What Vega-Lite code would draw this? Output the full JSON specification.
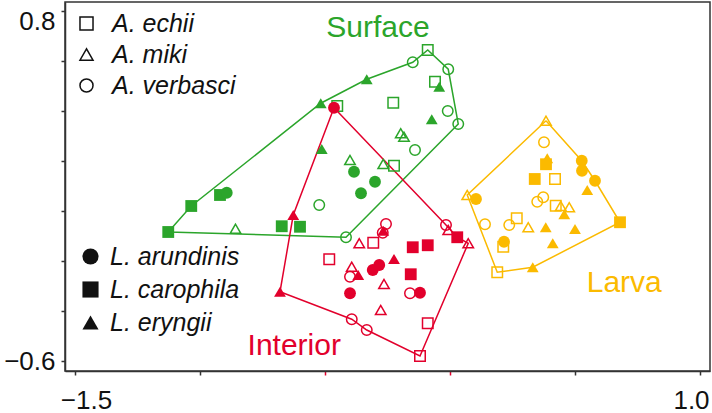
{
  "$schema": "https://vega.github.io/schema/vega-lite/v6.json",
  "width": 645,
  "height": 369,
  "autosize": {"type": "none"},
  "padding": {"left": 65, "top": 2, "right": 2, "bottom": 42},
  "config": {"view": {"stroke": "#333", "strokeWidth": 1.5}, "font": "Liberation Sans"},
  "datasets": {
    "pts": [
      {"g":"Surface","sp":"A. echii","x":-0.089,"y":0.644},
      {"g":"Surface","sp":"A. verbasci","x":-0.149,"y":0.595},
      {"g":"Surface","sp":"A. verbasci","x":-0.007,"y":0.567},
      {"g":"Surface","sp":"L. eryngii","x":-0.333,"y":0.527},
      {"g":"Surface","sp":"A. echii","x":-0.060,"y":0.517},
      {"g":"Surface","sp":"L. eryngii","x":-0.043,"y":0.497},
      {"g":"Surface","sp":"L. eryngii","x":-0.517,"y":0.431},
      {"g":"Surface","sp":"A. echii","x":-0.451,"y":0.420},
      {"g":"Surface","sp":"A. echii","x":-0.227,"y":0.433},
      {"g":"Surface","sp":"L. eryngii","x":-0.073,"y":0.367},
      {"g":"Surface","sp":"A. verbasci","x":-0.009,"y":0.400},
      {"g":"Surface","sp":"A. verbasci","x":0.033,"y":0.348},
      {"g":"Surface","sp":"A. miki","x":-0.197,"y":0.311},
      {"g":"Surface","sp":"A. miki","x":-0.184,"y":0.297},
      {"g":"Surface","sp":"A. verbasci","x":-0.140,"y":0.244},
      {"g":"Surface","sp":"L. eryngii","x":-0.513,"y":0.248},
      {"g":"Surface","sp":"A. miki","x":-0.400,"y":0.204},
      {"g":"Surface","sp":"A. miki","x":-0.267,"y":0.188},
      {"g":"Surface","sp":"A. echii","x":-0.224,"y":0.181},
      {"g":"Surface","sp":"L. arundinis","x":-0.384,"y":0.157},
      {"g":"Surface","sp":"L. arundinis","x":-0.300,"y":0.117},
      {"g":"Surface","sp":"L. arundinis","x":-0.356,"y":0.071},
      {"g":"Surface","sp":"A. verbasci","x":-0.523,"y":0.024},
      {"g":"Surface","sp":"A. verbasci","x":-0.416,"y":-0.105},
      {"g":"Surface","sp":"L. carophila","x":-1.127,"y":-0.084},
      {"g":"Surface","sp":"L. carophila","x":-1.035,"y":0.020},
      {"g":"Surface","sp":"L. carophila","x":-0.920,"y":0.064},
      {"g":"Surface","sp":"L. arundinis","x":-0.893,"y":0.073},
      {"g":"Surface","sp":"A. miki","x":-0.858,"y":-0.071},
      {"g":"Surface","sp":"L. carophila","x":-0.673,"y":-0.061},
      {"g":"Surface","sp":"L. carophila","x":-0.600,"y":-0.063},
      {"g":"Interior","sp":"L. arundinis","x":-0.464,"y":0.413},
      {"g":"Interior","sp":"L. eryngii","x":-0.627,"y":-0.016},
      {"g":"Interior","sp":"A. verbasci","x":-0.256,"y":-0.052},
      {"g":"Interior","sp":"L. eryngii","x":-0.267,"y":-0.079},
      {"g":"Interior","sp":"A. verbasci","x":-0.269,"y":-0.087},
      {"g":"Interior","sp":"A. miki","x":-0.363,"y":-0.129},
      {"g":"Interior","sp":"A. echii","x":-0.307,"y":-0.127},
      {"g":"Interior","sp":"L. carophila","x":-0.149,"y":-0.145},
      {"g":"Interior","sp":"L. carophila","x":-0.089,"y":-0.137},
      {"g":"Interior","sp":"A. verbasci","x":-0.016,"y":-0.056},
      {"g":"Interior","sp":"A. miki","x":-0.007,"y":-0.076},
      {"g":"Interior","sp":"L. carophila","x":0.029,"y":-0.105},
      {"g":"Interior","sp":"A. miki","x":0.073,"y":-0.129},
      {"g":"Interior","sp":"A. echii","x":-0.483,"y":-0.193},
      {"g":"Interior","sp":"L. eryngii","x":-0.224,"y":-0.192},
      {"g":"Interior","sp":"A. miki","x":-0.393,"y":-0.223},
      {"g":"Interior","sp":"L. arundinis","x":-0.309,"y":-0.236},
      {"g":"Interior","sp":"L. arundinis","x":-0.283,"y":-0.216},
      {"g":"Interior","sp":"L. eryngii","x":-0.367,"y":-0.256},
      {"g":"Interior","sp":"A. verbasci","x":-0.400,"y":-0.263},
      {"g":"Interior","sp":"L. carophila","x":-0.157,"y":-0.253},
      {"g":"Interior","sp":"A. miki","x":-0.264,"y":-0.292},
      {"g":"Interior","sp":"L. arundinis","x":-0.400,"y":-0.329},
      {"g":"Interior","sp":"A. verbasci","x":-0.160,"y":-0.329},
      {"g":"Interior","sp":"L. arundinis","x":-0.120,"y":-0.327},
      {"g":"Interior","sp":"A. miki","x":-0.277,"y":-0.396},
      {"g":"Interior","sp":"A. verbasci","x":-0.393,"y":-0.433},
      {"g":"Interior","sp":"A. verbasci","x":-0.333,"y":-0.476},
      {"g":"Interior","sp":"A. echii","x":-0.089,"y":-0.449},
      {"g":"Interior","sp":"A. echii","x":-0.120,"y":-0.580},
      {"g":"Interior","sp":"L. eryngii","x":-0.680,"y":-0.323},
      {"g":"Larva","sp":"A. miki","x":0.384,"y":0.361},
      {"g":"Larva","sp":"A. verbasci","x":0.376,"y":0.275},
      {"g":"Larva","sp":"L. eryngii","x":0.389,"y":0.211},
      {"g":"Larva","sp":"L. carophila","x":0.384,"y":0.187},
      {"g":"Larva","sp":"L. arundinis","x":0.527,"y":0.201},
      {"g":"Larva","sp":"L. arundinis","x":0.528,"y":0.161},
      {"g":"Larva","sp":"L. arundinis","x":0.580,"y":0.121},
      {"g":"Larva","sp":"L. carophila","x":0.339,"y":0.128},
      {"g":"Larva","sp":"A. echii","x":0.420,"y":0.128},
      {"g":"Larva","sp":"L. eryngii","x":0.549,"y":0.084},
      {"g":"Larva","sp":"A. miki","x":0.069,"y":0.064},
      {"g":"Larva","sp":"L. arundinis","x":0.104,"y":0.048},
      {"g":"Larva","sp":"A. verbasci","x":0.349,"y":0.037},
      {"g":"Larva","sp":"A. verbasci","x":0.373,"y":0.055},
      {"g":"Larva","sp":"A. echii","x":0.423,"y":0.021},
      {"g":"Larva","sp":"A. miki","x":0.443,"y":0.020},
      {"g":"Larva","sp":"A. miki","x":0.477,"y":0.015},
      {"g":"Larva","sp":"L. eryngii","x":0.457,"y":-0.013},
      {"g":"Larva","sp":"L. carophila","x":0.680,"y":-0.045},
      {"g":"Larva","sp":"A. verbasci","x":0.140,"y":-0.053},
      {"g":"Larva","sp":"A. echii","x":0.267,"y":-0.029},
      {"g":"Larva","sp":"A. verbasci","x":0.237,"y":-0.056},
      {"g":"Larva","sp":"A. miki","x":0.313,"y":-0.065},
      {"g":"Larva","sp":"L. eryngii","x":0.383,"y":-0.065},
      {"g":"Larva","sp":"L. eryngii","x":0.500,"y":-0.072},
      {"g":"Larva","sp":"L. arundinis","x":0.216,"y":-0.123},
      {"g":"Larva","sp":"A. echii","x":0.213,"y":-0.143},
      {"g":"Larva","sp":"L. eryngii","x":0.411,"y":-0.129},
      {"g":"Larva","sp":"A. echii","x":0.189,"y":-0.245},
      {"g":"Larva","sp":"L. eryngii","x":0.331,"y":-0.225}
    ],
    "hull": [
      {"g":"Surface","i":0,"x":-1.127,"y":-0.084},
      {"g":"Surface","i":1,"x":-1.035,"y":0.020},
      {"g":"Surface","i":2,"x":-0.517,"y":0.431},
      {"g":"Surface","i":3,"x":-0.333,"y":0.527},
      {"g":"Surface","i":4,"x":-0.149,"y":0.595},
      {"g":"Surface","i":5,"x":-0.089,"y":0.644},
      {"g":"Surface","i":6,"x":-0.007,"y":0.567},
      {"g":"Surface","i":7,"x":0.033,"y":0.348},
      {"g":"Surface","i":8,"x":-0.416,"y":-0.105},
      {"g":"Surface","i":9,"x":-1.127,"y":-0.084},
      {"g":"Interior","i":0,"x":-0.464,"y":0.413},
      {"g":"Interior","i":1,"x":-0.016,"y":-0.056},
      {"g":"Interior","i":2,"x":0.029,"y":-0.105},
      {"g":"Interior","i":3,"x":0.073,"y":-0.129},
      {"g":"Interior","i":4,"x":-0.120,"y":-0.580},
      {"g":"Interior","i":5,"x":-0.333,"y":-0.476},
      {"g":"Interior","i":6,"x":-0.393,"y":-0.433},
      {"g":"Interior","i":7,"x":-0.680,"y":-0.323},
      {"g":"Interior","i":8,"x":-0.627,"y":-0.016},
      {"g":"Interior","i":9,"x":-0.464,"y":0.413},
      {"g":"Larva","i":0,"x":0.384,"y":0.361},
      {"g":"Larva","i":1,"x":0.527,"y":0.201},
      {"g":"Larva","i":2,"x":0.580,"y":0.121},
      {"g":"Larva","i":3,"x":0.680,"y":-0.045},
      {"g":"Larva","i":4,"x":0.331,"y":-0.225},
      {"g":"Larva","i":5,"x":0.189,"y":-0.245},
      {"g":"Larva","i":6,"x":0.069,"y":0.064},
      {"g":"Larva","i":7,"x":0.384,"y":0.361}
    ],
    "labels": [
      {"g":"Surface","label":"Surface","x":-0.288,"y":0.697},
      {"g":"Interior","label":"Interior","x":-0.623,"y":-0.576},
      {"g":"Larva","label":"Larva","x":0.697,"y":-0.323}
    ]
  },
  "layer": [
    {
      "mark": {"type": "rule", "color": "#bdbdbd", "strokeWidth": 1},
      "encoding": {"x": {"datum": 0, "type": "quantitative", "scale": {"domain": [-1.54, 1.04], "nice": false, "zero": false}}}
    },
    {
      "mark": {"type": "rule", "color": "#bdbdbd", "strokeWidth": 1},
      "encoding": {"y": {"datum": 0, "type": "quantitative", "scale": {"domain": [-0.64, 0.836], "nice": false, "zero": false}}}
    },
    {
      "data": {"name": "hull"},
      "mark": {"type": "line", "strokeWidth": 1.5},
      "encoding": {
        "x": {"field": "x", "type": "quantitative", "scale": {"domain": [-1.54, 1.04], "nice": false, "zero": false},
          "axis": {"title": null, "grid": false, "values": [-1.5, -1, -0.5, 0, 0.5, 1], "format": ".1f",
            "labelExpr": "datum.value == -1.5 || datum.value == 1 ? datum.label : ''",
            "labelFontSize": 26, "labelColor": "#111", "labelFont": "Liberation Sans", "labelPadding": 12,
            "labelOffset": {"condition": {"test": "datum.value < 0", "value": 11}, "value": -9},
            "domainColor": "#333", "domainWidth": 1.5, "tickSize": 4, "tickWidth": 1.5,
            "tickColor": {"condition": {"test": "datum.value == -0.5 || datum.value == 0", "value": "#E2002C"}, "value": "#333"}}},
        "y": {"field": "y", "type": "quantitative", "scale": {"domain": [-0.64, 0.836], "nice": false, "zero": false},
          "axis": {"title": null, "grid": false, "values": [-0.6, -0.4, -0.2, 0, 0.2, 0.4, 0.6, 0.8], "format": ".1f",
            "labelExpr": "abs(datum.value - 0.8) < 1e-9 || abs(datum.value + 0.6) < 1e-9 ? datum.label : ''",
            "labelFontSize": 26, "labelColor": "#111", "labelFont": "Liberation Sans", "labelPadding": 6,
            "labelOffset": {"condition": {"test": "datum.value > 0.5", "value": 10}, "value": 0},
            "domainColor": "#333", "domainWidth": 1.5, "tickSize": 4, "tickWidth": 1.5, "tickColor": "#333"}},
        "color": {"field": "g", "type": "nominal", "scale": {"domain": ["Surface", "Interior", "Larva"], "range": ["#2BA52B", "#E2002C", "#FBBA00"]}, "legend": null},
        "detail": {"field": "g"},
        "order": {"field": "i", "type": "quantitative"}
      }
    },
    {
      "data": {"name": "pts"},
      "transform": [{"filter": "indexof(datum.sp, 'A.') == 0"}],
      "mark": {"type": "point", "filled": false, "strokeWidth": 1.5, "size": 110, "opacity": 1},
      "encoding": {
        "x": {"field": "x", "type": "quantitative", "scale": {"domain": [-1.54, 1.04], "nice": false, "zero": false}},
        "y": {"field": "y", "type": "quantitative", "scale": {"domain": [-0.64, 0.836], "nice": false, "zero": false}},
        "color": {"field": "g", "type": "nominal", "scale": {"domain": ["Surface", "Interior", "Larva"], "range": ["#2BA52B", "#E2002C", "#FBBA00"]}, "legend": null},
        "shape": {"field": "sp", "type": "nominal",
          "scale": {"domain": ["A. echii", "A. miki", "A. verbasci"], "range": ["square", "triangle-up", "circle"]},
          "legend": {"orient": "none", "legendX": 9, "legendY": 9, "title": null, "padding": 0,
            "labelFont": "Liberation Sans", "labelFontStyle": "italic", "labelFontSize": 25, "labelColor": "#111",
            "labelOffset": 13, "rowPadding": 5, "symbolSize": 170, "symbolStrokeWidth": 1.5,
            "symbolStrokeColor": "#111", "symbolFillColor": "white", "symbolOpacity": 1}}
      }
    },
    {
      "data": {"name": "pts"},
      "transform": [{"filter": "indexof(datum.sp, 'L.') == 0"}],
      "mark": {"type": "point", "filled": true, "size": 140, "opacity": 1},
      "encoding": {
        "x": {"field": "x", "type": "quantitative", "scale": {"domain": [-1.54, 1.04], "nice": false, "zero": false}},
        "y": {"field": "y", "type": "quantitative", "scale": {"domain": [-0.64, 0.836], "nice": false, "zero": false}},
        "color": {"field": "g", "type": "nominal", "scale": {"domain": ["Surface", "Interior", "Larva"], "range": ["#2BA52B", "#E2002C", "#FBBA00"]}, "legend": null},
        "shape": {"field": "sp", "type": "nominal",
          "scale": {"domain": ["L. arundinis", "L. carophila", "L. eryngii"], "range": ["circle", "square", "triangle-up"]},
          "legend": {"orient": "none", "legendX": 13, "legendY": 242, "title": null, "padding": 0,
            "labelFont": "Liberation Sans", "labelFontStyle": "italic", "labelFontSize": 25, "labelColor": "#111",
            "labelOffset": 7, "rowPadding": 7, "symbolSize": 260, "symbolStrokeWidth": 0,
            "symbolFillColor": "#111", "symbolStrokeColor": "#111", "symbolOpacity": 1}}
      }
    },
    {
      "data": {"name": "labels"},
      "mark": {"type": "text", "fontSize": 30, "font": "Liberation Sans", "align": "center", "baseline": "alphabetic"},
      "encoding": {
        "x": {"field": "x", "type": "quantitative", "scale": {"domain": [-1.54, 1.04], "nice": false, "zero": false}},
        "y": {"field": "y", "type": "quantitative", "scale": {"domain": [-0.64, 0.836], "nice": false, "zero": false}},
        "text": {"field": "label"},
        "color": {"field": "g", "type": "nominal", "scale": {"domain": ["Surface", "Interior", "Larva"], "range": ["#2BA52B", "#E2002C", "#FBBA00"]}, "legend": null}
      }
    }
  ],
  "resolve": {"scale": {"shape": "independent"}}
}
